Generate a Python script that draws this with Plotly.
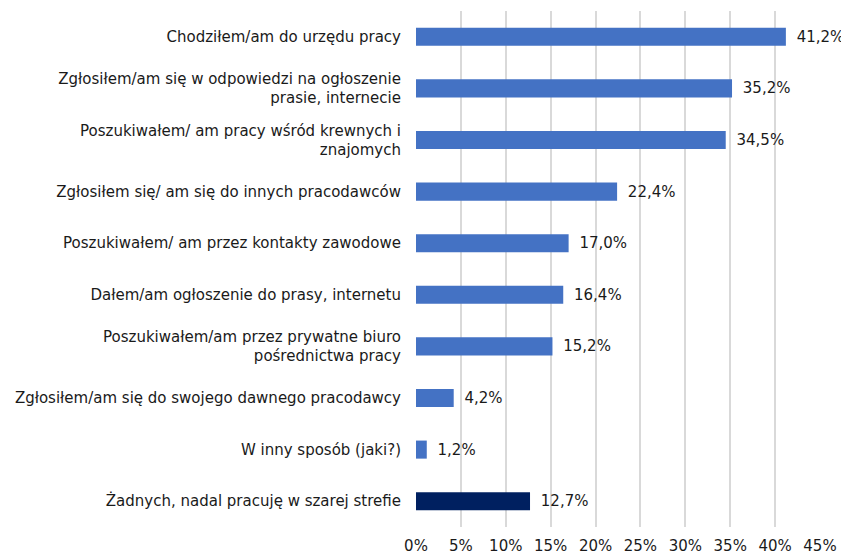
import plotly.graph_objects as go

categories = [
    "Chodziłem/am do urzędu pracy",
    "Zgłosiłem/am się w odpowiedzi na ogłoszenie<br>prasie, internecie",
    "Poszukiwałem/ am pracy wśród krewnych i<br>znajomych",
    "Zgłosiłem się/ am się do innych pracodawców",
    "Poszukiwałem/ am przez kontakty zawodowe",
    "Dałem/am ogłoszenie do prasy, internetu",
    "Poszukiwałem/am przez prywatne biuro<br>pośrednictwa pracy",
    "Zgłosiłem/am się do swojego dawnego pracodawcy",
    "W inny sposób (jaki?)",
    "Żadnych, nadal pracuję w szarej strefie",
]
values = [41.2, 35.2, 34.5, 22.4, 17.0, 16.4, 15.2, 4.2, 1.2, 12.7]
colors = ["#4472C4"] * 9 + ["#002060"]
tick_vals = [0, 5, 10, 15, 20, 25, 30, 35, 40, 45]
tick_text = [f"{v}%" for v in tick_vals]
labels = ["\u2009\u00a0" + f"{v:.1f}".replace(".", ",") + "%" for v in values]

fig = go.Figure(go.Bar(
    x=values, y=categories, orientation="h",
    marker=dict(color=colors, line=dict(width=0)),
    text=labels, textposition="outside", cliponaxis=False,
    textfont=dict(family="DejaVu Sans", size=15, color="#1a1a1a"),
    width=0.35,
))

fig.update_layout(
    width=841, height=548,
    margin=dict(l=408, r=29, t=3, b=29),
    paper_bgcolor="white", plot_bgcolor="white",
    font=dict(family="DejaVu Sans", size=15, color="#1a1a1a"),
    showlegend=False,
    xaxis=dict(range=[0, 45], tickvals=tick_vals, ticktext=tick_text,
               showgrid=True, gridcolor="#D9D9D9", gridwidth=1.5,
               zeroline=False, showline=False, ticks="", automargin=False,
               ticklabelstandoff=8, tickfont=dict(size=15, color="#1a1a1a")),
    yaxis=dict(autorange="reversed", showgrid=False, zeroline=False,
               showline=False, ticks="", ticklabelstandoff=14, automargin=False,
               tickfont=dict(size=15, color="#1a1a1a")),
)

fig.write_html("out.html")
